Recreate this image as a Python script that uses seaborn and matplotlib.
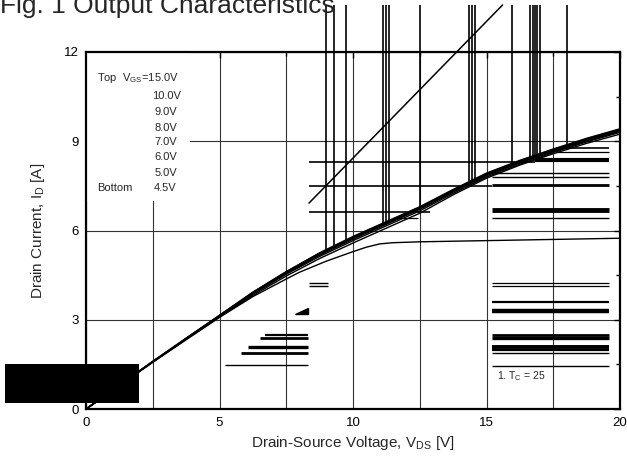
import numpy as np
import pandas as pd
import seaborn as sns
import matplotlib.pyplot as plt
from matplotlib.patches import Rectangle

# output curves, I_D [A] vs V_DS [V]
vds = [0, 1, 2.5, 3.75, 5, 6.25, 7.5, 8.75, 10, 11.25, 12.5, 13.75, 15, 16.25, 17.5, 18.75, 20]
id_15v = [0, .64, 1.60, 2.38, 3.15, 3.93, 4.62, 5.25, 5.80, 6.30, 6.80, 7.38, 7.93, 8.36, 8.74, 9.10, 9.42]
id_10v = [0, .64, 1.60, 2.38, 3.15, 3.92, 4.61, 5.24, 5.78, 6.28, 6.78, 7.36, 7.91, 8.34, 8.72, 9.08, 9.40]
id_9v = [0, .64, 1.60, 2.37, 3.14, 3.91, 4.60, 5.22, 5.76, 6.26, 6.76, 7.34, 7.89, 8.32, 8.70, 9.06, 9.38]
id_8v = [0, .64, 1.59, 2.36, 3.13, 3.90, 4.58, 5.20, 5.74, 6.24, 6.74, 7.32, 7.87, 8.30, 8.68, 9.04, 9.36]
id_7v = [0, .63, 1.59, 2.36, 3.12, 3.88, 4.56, 5.17, 5.71, 6.21, 6.71, 7.29, 7.84, 8.27, 8.65, 9.01, 9.33]
id_6v = [0, .63, 1.58, 2.35, 3.11, 3.86, 4.53, 5.13, 5.66, 6.16, 6.66, 7.25, 7.80, 8.23, 8.62, 8.98, 9.30]
id_5v = [0, .63, 1.58, 2.34, 3.09, 3.82, 4.47, 5.06, 5.58, 6.08, 6.58, 7.20, 7.76, 8.20, 8.58, 8.93, 9.24]
vds_45 = [0, 1, 2.5, 3.75, 5, 6.25, 7.5, 8, 9, 10, 10.5, 11, 11.5, 12.5, 15, 17.5, 20]
id_45v = [0, .63, 1.57, 2.33, 3.08, 3.78, 4.37, 4.60, 4.97, 5.29, 5.44, 5.55, 5.59, 5.62, 5.66, 5.70, 5.74]

vgs_labels = ['15.0V', '10.0V', '9.0V', '8.0V', '7.0V', '6.0V', '5.0V', '4.5V']

# scan debris on the sheet
streak_x = [8.99, 9.27, 9.73, 11.13, 11.23, 11.35, 12.5, 14.36, 14.45, 14.57,
            15.97, 16.63, 16.73, 16.82, 16.9, 17.0, 18.0]
streak_top = 13.58
bar_y = [8.30, 8.37, 7.51, 7.53, 6.63, 6.42, 8.78, 8.65, 7.93, 7.81, 6.69, 6.42,
         4.22, 4.13, 3.60, 3.29, 2.49, 2.38, 2.09, 1.98, 1.87, 1.46,
         4.24, 4.13, 2.49, 2.38, 2.09, 1.89, 1.47]
bar_x0 = [8.35, 16.8, 8.35, 15.2, 8.35, 11.65, 17.6, 17.6, 15.2, 15.2, 15.2, 15.2,
          15.2, 15.2, 15.2, 15.2, 15.2, 15.2, 15.2, 15.2, 15.2, 15.2,
          8.35, 8.35, 6.7, 6.51, 6.07, 5.8, 5.2]
bar_x1 = [16.8, 19.6, 15.2, 19.6, 12.9, 12.45, 19.6, 19.6, 19.6, 19.6, 19.6, 19.6,
          19.6, 19.6, 19.6, 19.6, 19.6, 19.6, 19.6, 19.6, 19.6, 19.6,
          9.06, 9.06, 8.3, 8.3, 8.3, 8.3, 8.3]
wedge_x = [7.83, 8.31, 8.31]
wedge_y = [3.2, 3.2, 3.4]
diag_x = [8.35, 15.6]
diag_y = [6.92, 13.58]
blot_xy = (-3.03, 0.2)
blot_w, blot_h = 5.02, 1.31

bar_lw = [1.2, 3.0, 1.2, 2.0, 1.2, 0.9, 1.2, 0.9, 1.0, 1.0, 3.5, 1.0,
          0.9, 0.9, 1.6, 3.2, 2.0, 2.4, 2.8, 1.6, 1.0, 1.0,
          1.0, 1.0, 1.6, 2.0, 2.4, 2.0, 1.0]

rows = []
for lab, ys in zip(vgs_labels[:-1], [id_15v, id_10v, id_9v, id_8v, id_7v, id_6v, id_5v]):
    rows += [(lab, x, y) for x, y in zip(vds, ys)]
rows += [('4.5V', x, y) for x, y in zip(vds_45, id_45v)]
df = pd.DataFrame(rows, columns=['Vgs', 'Vds', 'Id'])

sns.set_style('white')
plt.rcParams['font.family'] = ['Liberation Sans', 'DejaVu Sans']
plt.rcParams['mathtext.fontset'] = 'custom'
plt.rcParams['mathtext.rm'] = 'Liberation Sans'
plt.rcParams['mathtext.it'] = 'Liberation Sans'

fig = plt.figure(figsize=(6.27, 4.63), dpi=100)
ax = fig.add_axes([0.1372, 0.1166, 0.8517, 0.7711])

sns.lineplot(data=df, x='Vds', y='Id', hue='Vgs', palette=['black'] * 8,
             estimator=None, sort=False, linewidth=1.0, legend=False, ax=ax, zorder=3)

ax.set_xlim(0, 20)
ax.set_ylim(0, 12)
ax.set_xticks([0, 5, 10, 15, 20])
ax.set_xticks([2.5, 7.5, 12.5, 17.5], minor=True)
ax.set_yticks([0, 3, 6, 9, 12])
ax.set_yticks([1.5, 4.5, 7.5, 10.5], minor=True)
ax.tick_params(which='both', direction='in', top=True, right=True, labelsize=9.5,
               pad=5.5, colors='black', width=1.0)
ax.tick_params(which='major', length=4)
ax.tick_params(which='minor', length=3)
ax.set_axisbelow(True)
ax.grid(True, which='major', color='#333333', linewidth=0.8)
ax.xaxis.grid(True, which='minor', color='#333333', linewidth=0.8)
for s in ax.spines.values():
    s.set_color('black')
    s.set_linewidth(1.6)

# white patch behind the V_GS list
ax.add_patch(Rectangle((0, 7.0), 3.9, 5.0, facecolor='white', edgecolor='none', zorder=1))

ax.set_xlabel(r'Drain-Source Voltage, V$_{\rm DS}$ [V]', fontsize=11, labelpad=4)
ax.set_ylabel(r'Drain Current, I$_{\rm D}$ [A]', fontsize=11, labelpad=12)

ax.text(0.41, 11.12, r'Top  V$_{\rm GS}$=15.0V', fontsize=8, va='center', zorder=4)
legend_y = [10.53, 9.97, 9.44, 8.98, 8.48, 7.92, 7.44]
for lab, y in zip(vgs_labels[1:], legend_y):
    ax.text(2.47 if lab == '10.0V' else 2.55, y, lab, fontsize=8, va='center', zorder=4)
ax.text(0.41, 7.44, 'Bottom', fontsize=8, va='center', zorder=4)
ax.text(15.4, 1.09, r'1. T$_{\rm C}$ = 25', fontsize=7.5, va='center', zorder=4)

# debris
bottoms = np.interp(streak_x, vds, id_15v)
ax.vlines(streak_x, bottoms, streak_top, color='black', linewidth=1.2, clip_on=False, zorder=2)
for y, x0, x1, lw in zip(bar_y, bar_x0, bar_x1, bar_lw):
    ax.plot([x0, x1], [y, y], color='black', linewidth=lw, solid_capstyle='butt', zorder=2)
ax.fill(wedge_x, wedge_y, color='black', zorder=2)
ax.plot(diag_x, diag_y, color='black', linewidth=1.1, clip_on=False, zorder=2)
ax.add_patch(Rectangle(blot_xy, blot_w, blot_h, facecolor='black', edgecolor='none',
                       clip_on=False, zorder=5))

fig.text(0.0, 0.972, 'Fig. 1 Output Characteristics', fontsize=19, va='baseline', ha='left')

fig.savefig('out.png', dpi=100)
